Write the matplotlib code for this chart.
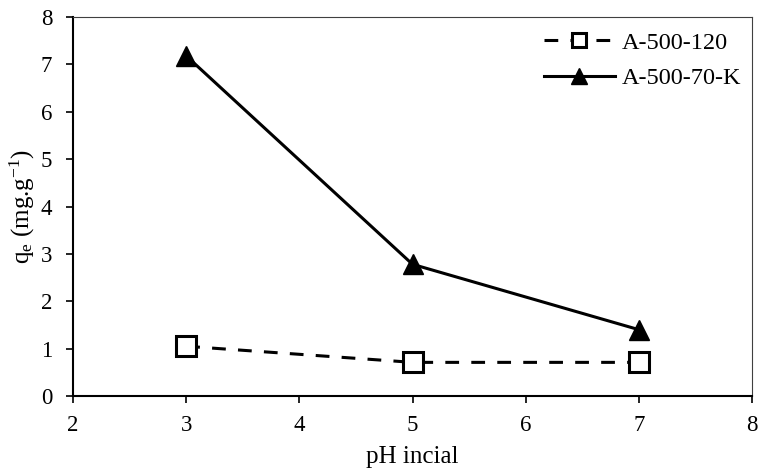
import matplotlib
matplotlib.use("Agg")
import matplotlib.pyplot as plt

plt.rcParams['font.family'] = ['Liberation Serif', 'DejaVu Serif']
plt.rcParams['mathtext.fontset'] = 'custom'
plt.rcParams['mathtext.rm'] = 'Liberation Serif'
plt.rcParams['mathtext.it'] = 'Liberation Serif:italic'

ph = [3, 5, 7]
a500_120 = [1.05, 0.71, 0.71]
a500_70k = [7.18, 2.78, 1.40]
series_labels = ['A-500-120', 'A-500-70-K']

fig = plt.figure(figsize=(7.59, 4.73), dpi=100)
ax = fig.add_axes([0.0962, 0.1628, 0.8946, 0.8012])

ax.plot(ph, a500_120, linestyle=(0, (4.5, 4.0)), color='black', lw=2.2,
        marker='s', markersize=14, markerfacecolor='white', markeredgecolor='black',
        markeredgewidth=2.2, label=series_labels[0], zorder=3)
ax.plot(ph, a500_70k, linestyle='-', color='black', lw=2.2,
        marker='^', markersize=15, markerfacecolor='black', markeredgecolor='black',
        label=series_labels[1], zorder=3)

ax.set_xlim(2, 8)
ax.set_ylim(0, 8)
ax.set_xticks(range(2, 9))
ax.set_yticks(range(0, 9))
ax.tick_params(axis='y', direction='out', length=5, width=1.2, labelsize=16.5, pad=10)
ax.tick_params(axis='x', direction='out', length=5, width=1.2, labelsize=16.5, pad=9)
for s in ['left', 'bottom']:
    ax.spines[s].set_linewidth(1.5)
for s in ['top', 'right']:
    ax.spines[s].set_color('#404040')
    ax.spines[s].set_linewidth(0.8)

ax.set_xlabel('pH incial', fontsize=18, labelpad=7)
ax.set_ylabel(r'q$_\mathregular{e}$ (mg.g$^\mathregular{-1}$)', fontsize=18, labelpad=3)

leg = ax.legend(loc='upper right', bbox_to_anchor=(1.006, 1.0), frameon=False,
                fontsize=17.5, handlelength=2.9,
                markerscale=0.75, borderaxespad=0.2, borderpad=0.4,
                labelspacing=0.55, handletextpad=0.3)

fig.savefig('out.png', dpi=100)
